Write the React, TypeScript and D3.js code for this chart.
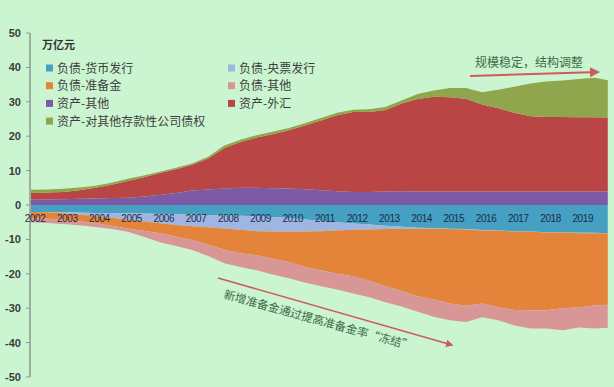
import React from "react";
import * as d3 from "d3";

// half-year observation points (decimal year)
const periods = [
  2002.0, 2002.5, 2003.0, 2003.5, 2004.0, 2004.5, 2005.0, 2005.5, 2006.0, 2006.5,
  2007.0, 2007.5, 2008.0, 2008.5, 2009.0, 2009.5, 2010.0, 2010.5, 2011.0, 2011.5,
  2012.0, 2012.5, 2013.0, 2013.5, 2014.0, 2014.5, 2015.0, 2015.5, 2016.0, 2016.5,
  2017.0, 2017.5, 2018.0, 2018.5, 2019.0, 2019.5, 2019.9,
];

// liabilities (negative), 万亿元
const currencyIssue = [
  -2.0, -2.0, -2.1, -2.2, -2.3, -2.3, -2.4, -2.5, -2.6, -2.7,
  -2.8, -2.9, -3.0, -3.1, -3.3, -3.5, -3.8, -4.2, -4.6, -5.0,
  -5.4, -5.7, -6.0, -6.3, -6.6, -6.7, -6.9, -7.0, -7.3, -7.4,
  -7.6, -7.7, -7.9, -7.9, -8.1, -8.1, -8.2,
];
const cbBills = [
  0, -0.1, -0.3, -0.6, -0.9, -1.4, -1.9, -2.3, -2.7, -3.1,
  -3.4, -3.6, -3.8, -4.1, -4.3, -4.2, -4.0, -3.5, -3.0, -2.4,
  -1.8, -1.4, -1.0, -0.7, -0.3, -0.2, -0.1, -0.1, -0.1, -0.1,
  -0.1, -0.1, -0.1, -0.1, -0.1, -0.1, -0.1,
];
const reserves = [
  -1.8, -1.9, -1.9, -2.0, -2.0, -2.3, -2.5, -2.7, -2.9, -3.4,
  -4.0, -5.0, -6.2, -6.8, -7.0, -7.9, -8.8, -10.3, -11.4, -12.6,
  -13.5, -14.9, -16.6, -18.0, -19.6, -20.6, -21.6, -22.2, -21.2, -22.2,
  -22.8, -22.8, -22.6, -22.0, -21.5, -21.0, -20.7,
];
const otherLiab = [
  -1.2, -1.2, -1.2, -1.1, -1.2, -1.0, -1.0, -1.7, -2.6, -2.7,
  -2.9, -3.3, -3.9, -4.0, -4.4, -4.6, -4.7, -4.5, -4.6, -4.6,
  -5.0, -4.8, -4.7, -4.5, -4.5, -5.0, -4.9, -4.7, -4.0, -3.8,
  -4.5, -5.3, -5.3, -6.4, -5.9, -6.7, -6.7,
];
// assets (positive)
const otherAssets = [
  1.5, 1.6, 1.7, 1.8, 1.9, 2.0, 2.1, 2.5, 2.9, 3.5,
  4.2, 4.5, 4.8, 5.0, 5.0, 4.9, 4.8, 4.6, 4.3, 4.0,
  3.8, 3.8, 3.9, 4.0, 3.9, 3.9, 3.9, 3.9, 3.9, 3.9,
  3.9, 3.9, 3.9, 3.9, 3.9, 3.9, 3.9,
];
const fxAssets = [
  2.0, 2.0, 2.1, 2.5, 3.1, 3.9, 4.9, 5.6, 6.4, 6.9,
  7.5, 9.0, 11.8, 13.3, 14.6, 15.7, 16.9, 18.5, 20.3, 22.1,
  23.2, 23.2, 23.7, 25.5, 26.9, 27.6, 27.4, 27.0, 25.3, 24.2,
  22.9, 21.9, 21.7, 21.7, 21.6, 21.6, 21.5,
];
const claimsOnBanks = [
  0.9, 0.9, 0.9, 0.8, 0.6, 0.6, 0.6, 0.5, 0.4, 0.4,
  0.4, 0.5, 0.7, 0.7, 0.7, 0.7, 0.7, 0.7, 0.7, 0.7,
  0.7, 0.8, 0.9, 0.9, 1.5, 1.8, 2.7, 3.1, 3.6, 5.4,
  7.6, 9.5, 10.3, 10.6, 11.1, 11.5, 10.9,
];

const seriesKeys = ["负债-货币发行", "负债-央票发行", "负债-准备金", "负债-其他", "资产-其他", "资产-外汇", "资产-对其他存款性公司债权"];
const seriesValues = [currencyIssue, cbBills, reserves, otherLiab, otherAssets, fxAssets, claimsOnBanks];
const seriesColors = ["#45a0c1", "#9fb5e2", "#e4843b", "#d99696", "#7c5aa6", "#b94545", "#8fa64c"];

const xTickYears = d3.range(2002, 2020);
const yTicks = [50, 40, 30, 20, 10, 0, -10, -20, -30, -40, -50];

// legend layout: column 1 / column 2
const legendCol1 = [0, 2, 4, 6];
const legendCol2 = [1, 3, 5];

const W = 614;
const H = 387;
const BG = "#cbf5d0";

export default function App() {
  const x = d3.scaleLinear().domain([2002, 2020]).range([31, 611]);
  const y = d3.scaleLinear().domain([-50, 50]).range([377, 33]);

  const table = periods.map((t, i) => {
    const row: any = { t };
    seriesKeys.forEach((k, j) => (row[k] = seriesValues[j][i]));
    return row;
  });
  const stacked = d3.stack().keys(seriesKeys).offset(d3.stackOffsetDiverging)(table as any);
  const area = d3
    .area<any>()
    .x((d) => x(d.data.t))
    .y0((d) => y(d[0]))
    .y1((d) => y(d[1]))
    .curve(d3.curveLinear);

  const cjk = "'Noto Sans CJK SC', sans-serif";
  const latin = "'Liberation Sans', Arial, sans-serif";

  // annotation arrows
  const a1 = { x1: 470, y1: 76, x2: 598, y2: 72 };
  const a2 = { x1: 218, y1: 278, x2: 452, y2: 345 };
  const ang2 = (Math.atan2(a2.y2 - a2.y1, a2.x2 - a2.x1) * 180) / Math.PI;

  return (
    <svg width={W} height={H} style={{ position: "absolute", left: 0, top: 0 }}>
      <defs>
        <marker id="arr" viewBox="0 0 10 10" refX="8" refY="5" markerWidth="5" markerHeight="5" orient="auto">
          <path d="M0,0 L10,5 L0,10 z" fill="#cf5a5a" />
        </marker>
      </defs>
      <rect x={0} y={0} width={W} height={H} fill={BG} />
      {stacked.map((s, i) => (
        <path key={s.key} d={area(s as any) || ""} fill={seriesColors[i]} />
      ))}
      {/* y axis */}
      <line x1={30} x2={30} y1={y(50)} y2={y(-50)} stroke="#8a9a8e" strokeWidth={1.5} />
      {yTicks.map((v) => (
        <g key={v}>
          <line x1={26} x2={30} y1={y(v)} y2={y(v)} stroke="#8a9a8e" strokeWidth={1} />
          <text x={21} y={y(v) + 4} textAnchor="end" fontSize={11} fontWeight="bold" fill="#3a3a3a" fontFamily={latin}>
            {v}
          </text>
        </g>
      ))}
      {/* x labels */}
      {xTickYears.map((yr) => (
        <text key={yr} x={x(yr) + 4} y={222} textAnchor="middle" fontSize={10} fill="#1d2b4a" fontFamily={latin} letterSpacing={-0.4}>
          {yr}
        </text>
      ))}
      {/* unit */}
      <text x={42} y={49} fontSize={11} fill="#333" fontFamily={cjk} fontWeight="bold">
        万亿元
      </text>
      {/* legend */}
      {[legendCol1, legendCol2].map((col, ci) =>
        col.map((si, ri) => {
          const lx = ci === 0 ? 46 : 228;
          const ly = 68 + ri * 17.7;
          return (
            <g key={si}>
              <rect x={lx} y={ly - 3.5} width={7} height={7} fill={seriesColors[si]} />
              <text x={lx + 11} y={ly + 4.5} fontSize={12} fill="#3d3d3d" fontFamily={cjk}>
                {seriesKeys[si]}
              </text>
            </g>
          );
        })
      )}
      {/* annotation 1 */}
      <text x={475} y={67} fontSize={12} fill="#3b6a47" fontFamily={cjk}>
        规模稳定，结构调整
      </text>
      <line {...a1} stroke="#cf5a5a" strokeWidth={2} markerEnd="url(#arr)" />
      {/* annotation 2 */}
      <line {...a2} stroke="#cf5a5a" strokeWidth={1.5} markerEnd="url(#arr)" />
      <text
        transform={`translate(223,298) rotate(${ang2 - 0.5})`}
        fontSize={11.5}
        fill="#3b6a47"
        fontFamily={cjk}
      >
        新增准备金通过提高准备金率“冻结”
      </text>
    </svg>
  );
}
